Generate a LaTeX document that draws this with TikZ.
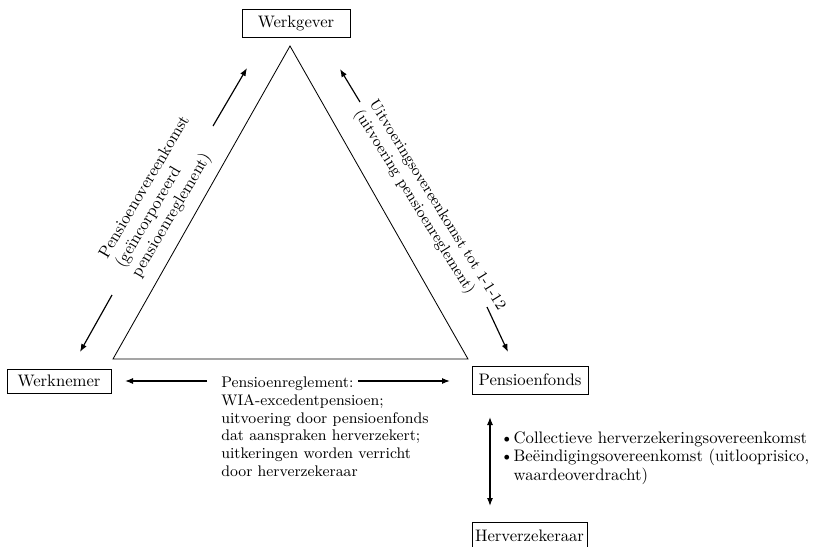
\documentclass[tikz,border=0pt]{standalone}
\usetikzlibrary{arrows.meta}
\begin{document}
\begin{tikzpicture}[x=0.6pt,y=-0.6pt]
\tikzset{
 box/.style={draw, line width=0.6pt, inner sep=0pt, font=\fontsize{10}{11.25}\selectfont},
 arr/.style={line width=0.7pt, -{Latex[length=4.8pt,width=3.6pt]}},
 darr/.style={line width=0.7pt, {Latex[length=4.8pt,width=3.6pt]}-{Latex[length=4.8pt,width=3.6pt]}},
 lbl/.style={inner sep=0pt, align=left, font=\fontsize{10}{11.25}\selectfont},
 smlbl/.style={lbl, font=\fontsize{9.2}{10.6}\selectfont},
}
\useasboundingbox (0,0) rectangle (813,546);
\clip (0,0) rectangle (813,546);
% boxes
\node[box, minimum width=64.8pt, minimum height=16.8pt] (wg) at (296,23) {Werkgever};
\node[box, minimum width=62.4pt, minimum height=14.4pt] (wn) at (59,381) {Werknemer};
\node[box, minimum width=69.6pt, minimum height=16.8pt] (pf) at (530,380) {Pensioenfonds};
\node[box, minimum width=69pt, minimum height=16.8pt] (hv) at (529.5,536) {Herverzekeraar};
% triangle
\coordinate (A) at (290,46);
\coordinate (B) at (113,359);
\coordinate (C) at (468,359);
\draw[line width=0.5pt] (A) -- (B) -- (C) -- cycle;
% diagonal arrows
\coordinate (l1s) at (213,126); \coordinate (l1e) at (247,68);
\coordinate (l2s) at (112,295); \coordinate (l2e) at (80,352);
\coordinate (r1s) at (360,102); \coordinate (r1e) at (340,69);
\coordinate (r2s) at (487,307); \coordinate (r2e) at (508,352);
\draw[arr] (l1s) -- (l1e);
\draw[arr] (l2s) -- (l2e);
\draw[arr] (r1s) -- (r1e);
\draw[arr] (r2s) -- (r2e);
% horizontal arrows
\coordinate (h1s) at (207,381); \coordinate (h1e) at (125,381);
\coordinate (h2s) at (358,381); \coordinate (h2e) at (450,381);
\draw[arr] (h1s) -- (h1e);
\draw[arr] (h2s) -- (h2e);
% vertical double arrow
\coordinate (v1) at (490,417); \coordinate (v2) at (490,506);
\draw[darr] (v1) -- (v2);
% labels (anchor = baseline of last line)
\node[smlbl, anchor=base west] (mid) at (221,476) {Pensioenreglement:\\WIA-excedentpensioen;\\uitvoering door pensioenfonds\\dat aanspraken herverzekert;\\uitkeringen worden verricht\\door herverzekeraar};
\node[lbl, anchor=base west, rotate=59.5] (ll) at (139.5,278.5) {Pensioenovereenkomst\\(geïncorporeerd\\pensioenreglement)};
\node[smlbl, anchor=base west, rotate=-58] (rl) at (354,113) {Uitvoeringsovereenkomst tot 1-1-12\\(uitvoering pensioenreglement)};
\node[lbl, anchor=base west] (bl) at (500,480.5) {\makebox[8pt][l]{\textbullet}Collectieve herverzekeringsovereenkomst\\\makebox[8pt][l]{\textbullet}Beëindigingsovereenkomst (uitlooprisico,\\\hspace*{8pt}waardeoverdracht)};
\end{tikzpicture}
\end{document}
